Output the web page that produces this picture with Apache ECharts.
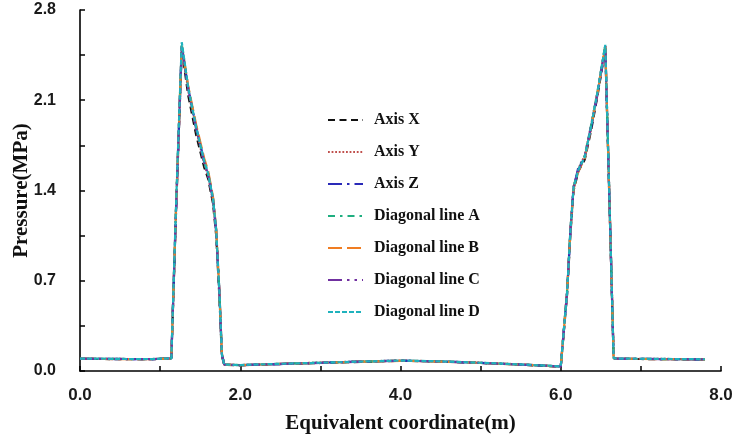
<!DOCTYPE html>
<html>
<head>
<meta charset="utf-8">
<title>Pressure along equivalent coordinate</title>
<script src="https://cdn.jsdelivr.net/npm/echarts@6/dist/echarts.min.js"></script>
<style>
  html, body { margin: 0; padding: 0; background: #ffffff; }
  #chart { width: 734px; height: 440px; }
</style>
</head>
<body>
<div id="chart"></div>
<script>
// Equivalent coordinate (m) sampled along each measuring line
const coords = [0, 0.3, 0.6, 0.9, 1.14, 1.2, 1.27, 1.35, 1.45, 1.55, 1.6, 1.66, 1.7, 1.74, 1.77, 1.8,
  2.0, 2.5, 3.0, 3.5, 4.0, 4.5, 5.0, 5.5, 6.0, 6.02, 6.08, 6.12, 6.16, 6.22, 6.3, 6.38, 6.46, 6.556,
  6.6, 6.66, 6.7, 7.0, 7.4, 7.8];

// Pressure (MPa) along each line
const axisX = [0.094, 0.093, 0.092, 0.091, 0.097, 1.26, 2.50, 2.14, 1.83, 1.58, 1.49, 1.30, 1.05, 0.57, 0.12, 0.048,
  0.044, 0.054, 0.062, 0.071, 0.079, 0.073, 0.062, 0.049, 0.034, 0.049, 0.60, 1.06, 1.40, 1.55, 1.64, 1.87, 2.14, 2.50,
  1.49, 0.099, 0.094, 0.093, 0.091, 0.089];
const axisY = [0.096, 0.095, 0.093, 0.093, 0.099, 1.29, 2.52, 2.18, 1.87, 1.61, 1.51, 1.32, 1.07, 0.59, 0.13, 0.051,
  0.046, 0.056, 0.065, 0.074, 0.081, 0.075, 0.064, 0.051, 0.036, 0.051, 0.63, 1.09, 1.43, 1.57, 1.67, 1.91, 2.17, 2.52,
  1.51, 0.101, 0.096, 0.095, 0.093, 0.091];
const axisZ = [0.095, 0.094, 0.092, 0.092, 0.098, 1.27, 2.51, 2.20, 1.89, 1.63, 1.53, 1.34, 1.09, 0.61, 0.14, 0.050,
  0.045, 0.054, 0.064, 0.073, 0.080, 0.074, 0.063, 0.050, 0.035, 0.050, 0.61, 1.08, 1.42, 1.58, 1.66, 1.89, 2.15, 2.51,
  1.50, 0.100, 0.095, 0.094, 0.092, 0.090];
const diagA = [0.095, 0.094, 0.093, 0.092, 0.098, 1.30, 2.54, 2.20, 1.89, 1.63, 1.53, 1.34, 1.09, 0.61, 0.13, 0.050,
  0.046, 0.056, 0.064, 0.072, 0.080, 0.075, 0.064, 0.050, 0.035, 0.050, 0.63, 1.09, 1.43, 1.56, 1.67, 1.91, 2.17, 2.53,
  1.52, 0.100, 0.095, 0.094, 0.092, 0.090];
const diagB = [0.094, 0.093, 0.092, 0.092, 0.097, 1.28, 2.52, 2.21, 1.91, 1.65, 1.55, 1.35, 1.10, 0.62, 0.14, 0.050,
  0.045, 0.055, 0.063, 0.072, 0.079, 0.073, 0.063, 0.050, 0.035, 0.050, 0.62, 1.07, 1.41, 1.55, 1.65, 1.89, 2.16, 2.52,
  1.50, 0.100, 0.094, 0.093, 0.092, 0.090];
const diagC = [0.095, 0.094, 0.093, 0.092, 0.098, 1.28, 2.52, 2.19, 1.88, 1.62, 1.52, 1.33, 1.08, 0.60, 0.13, 0.050,
  0.045, 0.055, 0.063, 0.072, 0.080, 0.074, 0.063, 0.050, 0.035, 0.050, 0.62, 1.08, 1.42, 1.56, 1.66, 1.90, 2.16, 2.52,
  1.50, 0.100, 0.095, 0.094, 0.092, 0.090];
const diagD = [0.096, 0.095, 0.093, 0.093, 0.099, 1.31, 2.55, 2.20, 1.89, 1.63, 1.53, 1.34, 1.09, 0.61, 0.13, 0.050,
  0.046, 0.056, 0.064, 0.073, 0.081, 0.075, 0.064, 0.051, 0.036, 0.050, 0.62, 1.08, 1.42, 1.56, 1.66, 1.90, 2.17, 2.53,
  1.51, 0.100, 0.096, 0.095, 0.093, 0.091];

const seriesNames = ['Axis X', 'Axis Y', 'Axis Z', 'Diagonal line A', 'Diagonal line B', 'Diagonal line C', 'Diagonal line D'];
const seriesValues = [axisX, axisY, axisZ, diagA, diagB, diagC, diagD];

// Line look per series
const styles = [
  { color: '#111111', type: [7, 4.5] },
  { color: '#c0504d', type: [1.8, 1.8] },
  { color: '#2a2ab8', type: [14, 5, 2.5, 5] },
  { color: '#1fae80', type: [7, 5, 2.5, 5] },
  { color: '#f07d22', type: [14, 5] },
  { color: '#7030a0', type: [14, 5, 2.5, 5, 2.5, 5] },
  { color: '#1fb2bd', type: [5, 2] }
];

const serifBold = { fontFamily: 'Liberation Serif', fontWeight: 'bold', color: '#111111' };
const sansBold = { fontFamily: 'Liberation Sans', fontWeight: 'bold', color: '#1a1a1a' };
const axisLine = { show: true, onZero: false, lineStyle: { color: '#000000', width: 1.6 } };

const chart = echarts.init(document.getElementById('chart'), null, { renderer: 'canvas' });

chart.setOption({
  animation: false,
  backgroundColor: '#ffffff',
  grid: { left: 80, right: 13, top: 10, bottom: 69, containLabel: false, outerBoundsMode: 'none' },
  legend: {
    orient: 'vertical',
    left: 327,
    top: 112,
    padding: 0,
    itemWidth: 35,
    itemHeight: 16,
    itemGap: 16,
    data: seriesNames,
    // keep only the dashed line in each legend key, no marker dot
    itemStyle: { opacity: 0, borderWidth: 0 },
    textStyle: Object.assign({ fontSize: 16, padding: [0, 0, 0, 6] }, serifBold)
  },
  xAxis: {
    type: 'value',
    min: 0,
    max: 8,
    interval: 2,
    name: 'Equivalent coordinate(m)',
    nameLocation: 'middle',
    nameGap: 42,
    nameMoveOverlap: false,
    nameTextStyle: Object.assign({ fontSize: 21 }, serifBold),
    axisLine: axisLine,
    axisTick: { show: true, inside: true, length: 5, lineStyle: { color: '#000', width: 1.5 } },
    minorTick: { show: true, splitNumber: 2, length: 5, lineStyle: { color: '#000', width: 1.5 } },
    splitLine: { show: false },
    axisLabel: Object.assign({ fontSize: 17, margin: 16, formatter: v => v.toFixed(1) }, sansBold)
  },
  yAxis: {
    type: 'value',
    min: 0,
    max: 2.8,
    interval: 0.7,
    name: 'Pressure(MPa)',
    nameLocation: 'middle',
    nameGap: 48,
    nameMoveOverlap: false,
    nameTextStyle: Object.assign({ fontSize: 21 }, serifBold),
    axisLine: axisLine,
    axisTick: { show: true, inside: true, length: 5, lineStyle: { color: '#000', width: 1.5 } },
    minorTick: { show: true, splitNumber: 2, length: 5, lineStyle: { color: '#000', width: 1.5 } },
    splitLine: { show: false },
    axisLabel: Object.assign({ fontSize: 16, margin: 24, formatter: v => v.toFixed(1) }, sansBold)
  },
  series: seriesNames.map((name, i) => ({
    name: name,
    type: 'line',
    data: coords.map((x, k) => [x, seriesValues[i][k]]),
    symbol: 'none',
    showSymbol: false,
    color: styles[i].color,
    lineStyle: { color: styles[i].color, width: 2.2, type: styles[i].type },
    z: 2 + i
  }))
});
</script>
</body>
</html>
